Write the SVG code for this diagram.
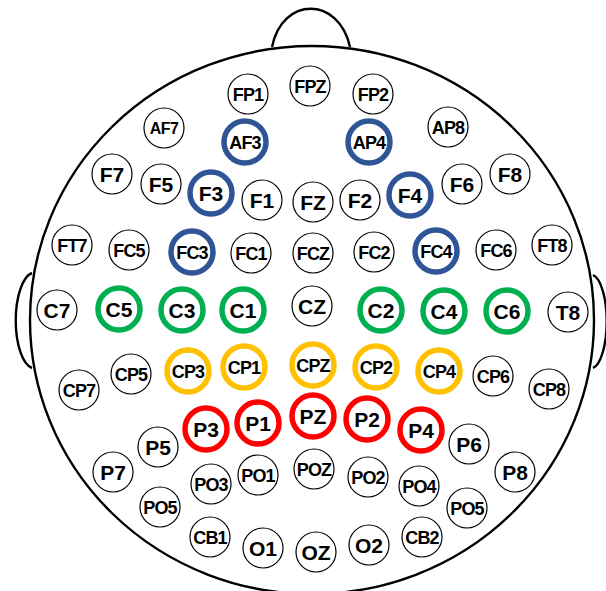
<svg xmlns="http://www.w3.org/2000/svg" width="606" height="591" viewBox="0 0 606 591">
<style>
.head{fill:#fff;stroke:#000;stroke-width:2.4}
.e{fill:#fff;stroke:#000;stroke-width:1.2}
.b{fill:#fff;stroke:#2F5597;stroke-width:5.5}
.g{fill:#fff;stroke:#00B050;stroke-width:5.5}
.y{fill:#fff;stroke:#FFC000;stroke-width:5.5}
.r{fill:#fff;stroke:#FF0000;stroke-width:5.5}
text{font-family:"Liberation Sans",Arial,sans-serif;font-weight:bold;fill:#000;text-anchor:middle}
.t2{font-size:21px}
.t3{font-size:18px;letter-spacing:-0.8px}
.t4{font-size:16px;letter-spacing:-0.6px}
</style>
<g id="head">
<path class="head" d="M272,47 C282,-4 339,-4 350,47"/>
<path class="head" d="M32,273 A19 48 0 0 0 32,368"/>
<path class="head" d="M593,275 A16 47 0 0 1 593,368"/>
<ellipse class="head" cx="312" cy="320" rx="282" ry="274"/>
</g>
<g id="FP1"><circle class="e" cx="248" cy="94" r="20"/><text class="t3" x="248" y="100.5">FP1</text></g>
<g id="FPZ"><circle class="e" cx="310" cy="86" r="20"/><text class="t3" x="310" y="92.5">FPZ</text></g>
<g id="FP2"><circle class="e" cx="373" cy="94" r="20"/><text class="t3" x="373" y="100.5">FP2</text></g>
<g id="AF7"><circle class="e" cx="164" cy="128" r="20"/><text class="t4" x="164" y="134">AF7</text></g>
<g id="AF3"><circle class="b" cx="245" cy="142" r="21"/><text class="t3" x="245" y="148.5">AF3</text></g>
<g id="AP4"><circle class="b" cx="369" cy="142" r="21"/><text class="t3" x="369" y="148.5">AP4</text></g>
<g id="AP8"><circle class="e" cx="448" cy="127" r="20"/><text class="t3" x="448" y="133.5">AP8</text></g>
<g id="F7"><circle class="e" cx="112" cy="174" r="20"/><text class="t2" x="112" y="181.5">F7</text></g>
<g id="F5"><circle class="e" cx="161" cy="184" r="20"/><text class="t2" x="161" y="191.5">F5</text></g>
<g id="F3"><circle class="b" cx="211" cy="193" r="21"/><text class="t2" x="211" y="200.5">F3</text></g>
<g id="F1"><circle class="e" cx="262" cy="200" r="20"/><text class="t2" x="262" y="207.5">F1</text></g>
<g id="FZ"><circle class="e" cx="313" cy="202" r="20"/><text class="t2" x="313" y="209.5">FZ</text></g>
<g id="F2"><circle class="e" cx="360" cy="200" r="20"/><text class="t2" x="360" y="207.5">F2</text></g>
<g id="F4"><circle class="b" cx="410" cy="195" r="21"/><text class="t2" x="410" y="202.5">F4</text></g>
<g id="F6"><circle class="e" cx="462" cy="184" r="20"/><text class="t2" x="462" y="191.5">F6</text></g>
<g id="F8"><circle class="e" cx="510" cy="174" r="20"/><text class="t2" x="510" y="181.5">F8</text></g>
<g id="FT7"><circle class="e" cx="72" cy="245" r="20"/><text class="t3" x="72" y="251.5">FT7</text></g>
<g id="FC5"><circle class="e" cx="129" cy="250" r="20"/><text class="t3" x="129" y="256.5">FC5</text></g>
<g id="FC3"><circle class="b" cx="192" cy="252" r="21"/><text class="t3" x="192" y="258.5">FC3</text></g>
<g id="FC1"><circle class="e" cx="251" cy="253" r="20"/><text class="t3" x="251" y="259.5">FC1</text></g>
<g id="FCZ"><circle class="e" cx="313" cy="253" r="20"/><text class="t3" x="313" y="259.5">FCZ</text></g>
<g id="FC2"><circle class="e" cx="374" cy="252" r="20"/><text class="t3" x="374" y="258.5">FC2</text></g>
<g id="FC4"><circle class="b" cx="436" cy="251" r="21"/><text class="t3" x="436" y="257.5">FC4</text></g>
<g id="FC6"><circle class="e" cx="496" cy="250" r="20"/><text class="t3" x="496" y="256.5">FC6</text></g>
<g id="FT8"><circle class="e" cx="552" cy="245" r="20"/><text class="t3" x="552" y="251.5">FT8</text></g>
<g id="C7"><circle class="e" cx="57" cy="310" r="20"/><text class="t2" x="57" y="317.5">C7</text></g>
<g id="C5"><circle class="g" cx="119" cy="309" r="21"/><text class="t2" x="119" y="316.5">C5</text></g>
<g id="C3"><circle class="g" cx="182" cy="310" r="21"/><text class="t2" x="182" y="317.5">C3</text></g>
<g id="C1"><circle class="g" cx="243" cy="310" r="21"/><text class="t2" x="243" y="317.5">C1</text></g>
<g id="CZ"><circle class="e" cx="312" cy="306" r="20"/><text class="t2" x="312" y="313.5">CZ</text></g>
<g id="C2"><circle class="g" cx="381" cy="310" r="21"/><text class="t2" x="381" y="317.5">C2</text></g>
<g id="C4"><circle class="g" cx="444" cy="311" r="21"/><text class="t2" x="444" y="318.5">C4</text></g>
<g id="C6"><circle class="g" cx="507" cy="311" r="21"/><text class="t2" x="507" y="318.5">C6</text></g>
<g id="T8"><circle class="e" cx="568" cy="312" r="20"/><text class="t2" x="568" y="319.5">T8</text></g>
<g id="CP7"><circle class="e" cx="79" cy="390" r="20"/><text class="t3" x="79" y="396.5">CP7</text></g>
<g id="CP5"><circle class="e" cx="131" cy="374" r="20"/><text class="t3" x="131" y="380.5">CP5</text></g>
<g id="CP3"><circle class="y" cx="188" cy="371" r="21"/><text class="t3" x="188" y="377.5">CP3</text></g>
<g id="CP1"><circle class="y" cx="244" cy="367" r="21"/><text class="t3" x="244" y="373.5">CP1</text></g>
<g id="CPZ"><circle class="y" cx="313" cy="365" r="21"/><text class="t3" x="313" y="371.5">CPZ</text></g>
<g id="CP2"><circle class="y" cx="376" cy="367" r="21"/><text class="t3" x="376" y="373.5">CP2</text></g>
<g id="CP4"><circle class="y" cx="439" cy="371" r="21"/><text class="t3" x="439" y="377.5">CP4</text></g>
<g id="CP6"><circle class="e" cx="493" cy="376" r="20"/><text class="t3" x="493" y="382.5">CP6</text></g>
<g id="CP8"><circle class="e" cx="549" cy="389" r="20"/><text class="t3" x="549" y="395.5">CP8</text></g>
<g id="P3"><circle class="r" cx="206" cy="429" r="21"/><text class="t2" x="206" y="436.5">P3</text></g>
<g id="P1"><circle class="r" cx="258" cy="423" r="21"/><text class="t2" x="258" y="430.5">P1</text></g>
<g id="PZ"><circle class="r" cx="313" cy="416" r="21"/><text class="t2" x="313" y="423.5">PZ</text></g>
<g id="P2"><circle class="r" cx="367" cy="419" r="21"/><text class="t2" x="367" y="426.5">P2</text></g>
<g id="P4"><circle class="r" cx="421" cy="430" r="21"/><text class="t2" x="421" y="437.5">P4</text></g>
<g id="P5"><circle class="e" cx="158" cy="447" r="20"/><text class="t2" x="158" y="454.5">P5</text></g>
<g id="P6"><circle class="e" cx="469" cy="444" r="20"/><text class="t2" x="469" y="451.5">P6</text></g>
<g id="P7"><circle class="e" cx="113" cy="472" r="20"/><text class="t2" x="113" y="479.5">P7</text></g>
<g id="P8"><circle class="e" cx="515" cy="472" r="20"/><text class="t2" x="515" y="479.5">P8</text></g>
<g id="PO3"><circle class="e" cx="211" cy="484" r="20"/><text class="t3" x="211" y="490.5">PO3</text></g>
<g id="PO1"><circle class="e" cx="258" cy="475" r="20"/><text class="t3" x="258" y="481.5">PO1</text></g>
<g id="POZ"><circle class="e" cx="314" cy="469" r="20"/><text class="t3" x="314" y="475.5">POZ</text></g>
<g id="PO2"><circle class="e" cx="368" cy="477" r="20"/><text class="t3" x="368" y="483.5">PO2</text></g>
<g id="PO4"><circle class="e" cx="419" cy="486" r="20"/><text class="t3" x="419" y="492.5">PO4</text></g>
<g id="PO5-left"><circle class="e" cx="160" cy="507" r="20"/><text class="t3" x="160" y="513.5">PO5</text></g>
<g id="PO5-right"><circle class="e" cx="467" cy="508" r="20"/><text class="t3" x="467" y="514.5">PO5</text></g>
<g id="CB1"><circle class="e" cx="210" cy="537" r="20"/><text class="t3" x="210" y="543.5">CB1</text></g>
<g id="O1"><circle class="e" cx="263" cy="548" r="20"/><text class="t2" x="263" y="555.5">O1</text></g>
<g id="OZ"><circle class="e" cx="316" cy="552" r="20"/><text class="t2" x="316" y="559.5">OZ</text></g>
<g id="O2"><circle class="e" cx="369" cy="545" r="20"/><text class="t2" x="369" y="552.5">O2</text></g>
<g id="CB2"><circle class="e" cx="422" cy="537" r="20"/><text class="t3" x="422" y="543.5">CB2</text></g>
</svg>
